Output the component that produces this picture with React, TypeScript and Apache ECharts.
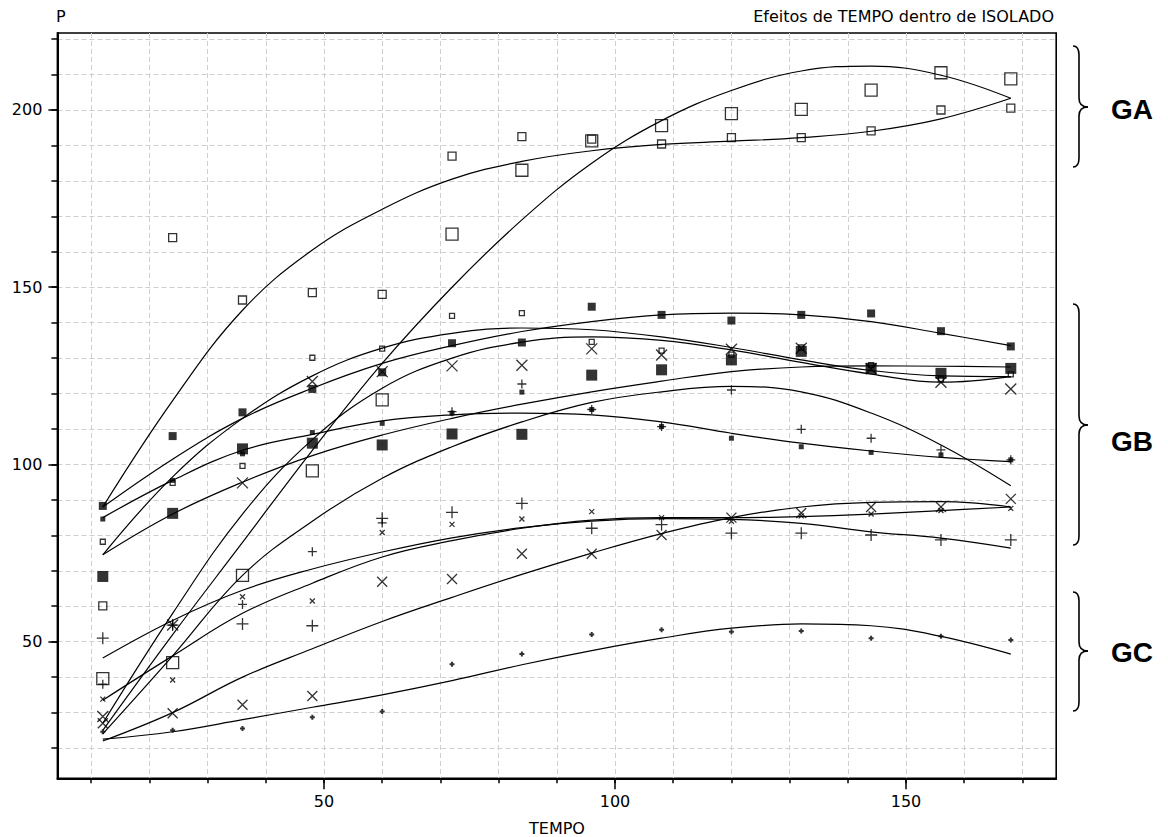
import { useEffect, useRef } from 'react';
import * as echarts from 'echarts';

// ---- data ----
const TEMPO = [12, 24, 36, 48, 60, 72, 84, 96, 108, 120, 132, 144, 156, 168];
const X_MINOR_TICKS = [10, 20, 30, 40, 50, 60, 70, 80, 90, 100, 110, 120, 130, 140, 150, 160, 170];
const X_MAJOR_TICKS = [50, 100, 150];
const Y_MINOR_TICKS = [20, 30, 40, 50, 60, 70, 80, 90, 100, 110, 120, 130, 140, 150, 160, 170, 180, 190, 200, 210, 220];
const Y_MAJOR_TICKS = [50, 100, 150, 200];

// observed means (markers)
const gaMedSqPts = [60.1, 164, 146.4, 148.5, 148, 187, 192.5, 191.8, 190.4, 192.2, 192.2, 194.1, 200, 200.5];
const gaLrgSqPts = [39.6, 44.1, 68.7, 98.2, 118.2, 165, 183, 191.3, 195.6, 199, 200.2, 205.6, 210.5, 208.8];
const gbSmlSqPts = [78.2, 94.8, 99.6, 130.1, 132.7, 141.9, 142.7, 134.6, 132.1, 131, 133, 128, 124, 125.4];
const gbMedFilledPts = [88.3, 108, 114.7, 121.3, 126, 134.2, 134.4, 144.5, 142.2, 140.6, 142.2, 142.6, 137.6, 133.3];
const gbLrgFilledPts = [68.4, 86.2, 104.4, 106, 105.5, 108.6, 108.5, 125.2, 126.7, 129.5, 131.9, 127.1, 125.7, 127.1];
const gbSmlFilledPts = [84.6, 95.5, 103, 109, 111.6, 114.5, 120.4, 115.5, 110.7, 107.4, 105, 103.4, 102.7, 101.3];
const gbLrgXPts = [28.9, 54.7, 94.8, 123.4, 126.2, 127.8, 128, 132.6, 130.9, 132.5, 132.8, 127, 123.2, 121.3];
const gbPlusPts = [38, 54.7, 60.5, 75.4, 83.5, 114.9, 122.7, 115.5, 110.7, 121, 109.9, 107.4, 104.1, 101.3];
const smlXPts = [33.8, 39.2, 62.7, 61.5, 80.8, 83.1, 84.6, 86.7, 85, 84, 85.5, 86, 87, 87.6];
const lrgPlusPts = [51, 54.7, 55, 54.5, 84.8, 86.5, 89, 82, 83, 80.6, 80.6, 80.1, 78.7, 78.7];
const lrgXLowPts = [27, 29.8, 32.2, 34.7, 66.9, 67.7, 74.8, 74.8, 80.1, 85, 86.3, 88, 88, 90.3];
const gcSmlPlusPts = [24.6, 25, 25.5, 28.7, 30.3, 43.6, 46.5, 52, 53.4, 52.8, 53, 51, 51.5, 50.5];

// fitted curves
const gaMedSqFit = [88, 118, 143.5, 160.5, 172, 180.5, 185.5, 188.5, 190.3, 191.2, 192.2, 194, 197.5, 203.3];
const gaLrgSqFit = [25, 52, 78, 104, 128.5, 150, 169, 185, 197, 205.5, 211, 212.4, 209.8, 203.3];
const gbSmlSqFit = [74.5, 96.5, 113, 125, 132.8, 137, 138.5, 138, 136, 133, 129.5, 126.5, 125, 124.8];
const gbMedFilledFit = [88, 101.5, 113, 121.5, 128.5, 133.5, 137.5, 140.3, 142.2, 142.7, 142.2, 140.3, 137, 133.5];
const gbLrgFilledFit = [74.5, 86, 95, 102.5, 108.3, 113, 117, 120.5, 123.5, 126.2, 127.5, 127.8, 127.7, 127.5];
const gbSmlFilledFit = [85, 95.5, 104, 108.5, 112.3, 114, 114.5, 114, 112, 108.8, 106, 103.8, 102, 100.8];
const gbLrgXFit = [27, 58, 86, 107, 121.5, 130, 134.5, 136, 135, 132.3, 128.8, 125.5, 123.2, 124.8];
const gbPlusFit = [24, 46, 68.7, 84, 96.1, 105, 112, 117.5, 120.5, 122, 120.5, 114.5, 105.5, 94];
const smlXFit = [33.5, 46, 58, 66.5, 73.9, 78.5, 82, 84.3, 85, 85, 85.3, 86, 87, 88];
const lrgPlusFit = [45.4, 56, 64.5, 70.5, 75.3, 79.3, 82.2, 84, 84.7, 84.5, 83.4, 81, 79.2, 76.4];
const lrgXLowFit = [22, 30, 40, 48, 55.7, 62.5, 69, 75, 80.5, 85, 88, 89.3, 89.5, 88];
const gcSmlPlusFit = [22.5, 24.6, 28, 31.5, 35, 39, 43.5, 47.5, 51, 53.8, 55, 54.5, 51.5, 46.5];

const GROUP_LABELS = ['GA', 'GB', 'GC'];

// ---- styles ----
const FONT = 'DejaVu Sans';
const SQ = 'path://M0,0L10,0L10,10L0,10Z';
const XS = 'path://M0,0L10,10M10,0L0,10';
const PL = 'path://M5,0L5,10M0,5L10,5';

type Iso = { pts: number[]; fit: number[]; symbol: string; size: number; filled: boolean; bw?: number };
const ISOLATES: Iso[] = [
  { pts: gaMedSqPts, fit: gaMedSqFit, symbol: SQ, size: 8, filled: false },
  { pts: gaLrgSqPts, fit: gaLrgSqFit, symbol: SQ, size: 12, filled: false },
  { pts: gbSmlSqPts, fit: gbSmlSqFit, symbol: SQ, size: 5, filled: false },
  { pts: gbMedFilledPts, fit: gbMedFilledFit, symbol: 'rect', size: 8, filled: true },
  { pts: gbLrgFilledPts, fit: gbLrgFilledFit, symbol: 'rect', size: 11, filled: true },
  { pts: gbSmlFilledPts, fit: gbSmlFilledFit, symbol: 'rect', size: 5, filled: true },
  { pts: gbLrgXPts, fit: gbLrgXFit, symbol: XS, size: 11, filled: false },
  { pts: gbPlusPts, fit: gbPlusFit, symbol: PL, size: 9, filled: false },
  { pts: smlXPts, fit: smlXFit, symbol: XS, size: 5, filled: false },
  { pts: lrgPlusPts, fit: lrgPlusFit, symbol: PL, size: 12, filled: false },
  { pts: lrgXLowPts, fit: lrgXLowFit, symbol: XS, size: 10, filled: false },
  { pts: gcSmlPlusPts, fit: gcSmlPlusFit, symbol: PL, size: 5, filled: false, bw: 2 },
];

function brace(x0: number, yT: number, yM: number, yB: number) {
  const xs = x0 + 6;
  const xt = x0 + 15;
  const r = 9;
  const st = { stroke: '#000', lineWidth: 1.6, fill: null as any };
  return [
    { type: 'bezierCurve', shape: { x1: x0, y1: yT, cpx1: xs, cpy1: yT, x2: xs, y2: yT + r }, style: st },
    { type: 'line', shape: { x1: xs, y1: yT + r, x2: xs, y2: yM - r }, style: st },
    { type: 'bezierCurve', shape: { x1: xs, y1: yM - r, cpx1: xs, cpy1: yM, x2: xt, y2: yM }, style: st },
    { type: 'bezierCurve', shape: { x1: xt, y1: yM, cpx1: xs, cpy1: yM, x2: xs, y2: yM + r }, style: st },
    { type: 'line', shape: { x1: xs, y1: yM + r, x2: xs, y2: yB - r }, style: st },
    { type: 'bezierCurve', shape: { x1: xs, y1: yB - r, cpx1: xs, cpy1: yB, x2: x0, y2: yB }, style: st },
  ];
}

export default function App() {
  const ref = useRef<HTMLDivElement>(null);
  useEffect(() => {
    if (!ref.current) return;
    const chart = echarts.init(ref.current, null, { renderer: 'svg' });
    const series: any[] = [];
    ISOLATES.forEach((iso) => {
      series.push({
        type: 'line',
        data: TEMPO.map((t, i) => [t, iso.fit[i]]),
        smooth: 0.4,
        symbol: 'none',
        lineStyle: { color: '#000', width: 1.2 },
        z: 3,
        silent: true,
      });
    });
    ISOLATES.forEach((iso) => {
      series.push({
        type: 'scatter',
        data: TEMPO.map((t, i) => [t, iso.pts[i]]),
        symbol: iso.symbol,
        symbolSize: iso.size,
        itemStyle: iso.filled
          ? { color: '#000', borderWidth: 0 }
          : { color: 'none', borderColor: '#000', borderWidth: iso.bw ?? 1.3 },
        z: 4,
        silent: true,
      });
    });

    const tickStyle = { color: '#000', width: 1.5 };
    const labelStyle = { color: '#000', fontSize: 16, fontFamily: FONT };
    const option: any = {
      animation: false,
      backgroundColor: '#fff',
      grid: { left: 57.4, right: 111.8, top: 33, bottom: 58.7, show: true, borderColor: '#000', borderWidth: 1.6, backgroundColor: 'transparent' },
      xAxis: [
        {
          type: 'value', min: 4.2, max: 175.8, minInterval: 10, maxInterval: 10, position: 'bottom',
          axisLine: { show: true, lineStyle: { color: '#000', width: 2 } },
          axisTick: { show: true, length: 5, lineStyle: tickStyle, customValues: X_MINOR_TICKS },
          axisLabel: { ...labelStyle, margin: 15, customValues: X_MAJOR_TICKS },
          splitLine: { show: true, lineStyle: { color: '#cfcfcf', type: [5, 3], width: 1 } },
        },
        {
          type: 'value', min: 4.2, max: 175.8, position: 'bottom',
          axisLine: { show: false },
          axisTick: { show: true, length: 11, lineStyle: tickStyle, customValues: X_MAJOR_TICKS },
          axisLabel: { show: false },
          splitLine: { show: false },
        },
      ],
      yAxis: [
        {
          type: 'value', min: 11.46, max: 221.72, minInterval: 10, maxInterval: 10, position: 'left',
          axisLine: { show: true, lineStyle: { color: '#000', width: 2 } },
          axisTick: { show: true, length: 6, lineStyle: tickStyle, customValues: Y_MINOR_TICKS },
          axisLabel: { ...labelStyle, margin: 15, customValues: Y_MAJOR_TICKS },
          splitLine: { show: true, lineStyle: { color: '#cfcfcf', type: [5, 3], width: 1 } },
        },
        {
          type: 'value', min: 11.46, max: 221.72, position: 'left',
          axisLine: { show: false },
          axisTick: { show: true, length: 9, lineStyle: tickStyle, customValues: Y_MAJOR_TICKS },
          axisLabel: { show: false },
          splitLine: { show: false },
        },
      ],
      graphic: [
        { type: 'text', left: 56, top: 8, style: { text: 'P', font: `16px "${FONT}"`, fill: '#000' } },
        { type: 'text', right: 114, top: 8, style: { text: 'Efeitos de TEMPO dentro de ISOLADO', font: `16px "${FONT}"`, fill: '#000' } },
        { type: 'text', x: 557, y: 828, style: { text: 'TEMPO', font: `16px "${FONT}"`, fill: '#000', align: 'center', verticalAlign: 'middle' } },
        ...brace(1073, 46, 107, 167),
        ...brace(1073, 304, 425, 545),
        ...brace(1073, 592, 651, 711),
        { type: 'text', x: 1111, y: 109, style: { text: GROUP_LABELS[0], font: `bold 28px "Liberation Sans"`, fill: '#000', verticalAlign: 'middle' } },
        { type: 'text', x: 1111, y: 441, style: { text: GROUP_LABELS[1], font: `bold 28px "Liberation Sans"`, fill: '#000', verticalAlign: 'middle' } },
        { type: 'text', x: 1111, y: 652, style: { text: GROUP_LABELS[2], font: `bold 28px "Liberation Sans"`, fill: '#000', verticalAlign: 'middle' } },
      ],
      series,
    };
    chart.setOption(option);
    return () => chart.dispose();
  }, []);
  return <div ref={ref} style={{ position: 'fixed', left: 0, top: 0, width: 1168, height: 837, background: '#fff' }} />;
}
